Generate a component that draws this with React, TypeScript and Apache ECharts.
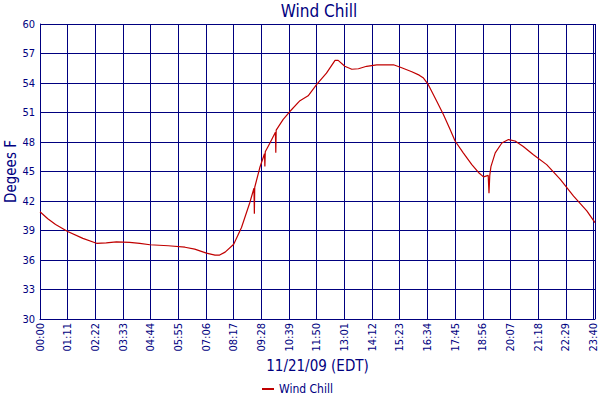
import React, { useEffect, useRef } from "react";
import * as echarts from "echarts";

const timesMin: number[] = [
  0, 20, 40, 71, 110, 145, 170, 196, 230, 256, 282, 329, 372, 397, 427, 449, 461, 475, 497, 517,
  538, 549, 550, 551, 564, 576, 577, 578, 590, 604, 605, 606, 624, 641, 667, 688, 710, 735, 757,
  765, 782, 800, 817, 838, 864, 907, 928, 954, 973, 984, 996, 1018, 1035, 1052, 1065, 1086, 1108,
  1125, 1138, 1150, 1152, 1154, 1157, 1168, 1185, 1202, 1219, 1240, 1266, 1300, 1335, 1369, 1403,
  1424,
];

const windChill: number[] = [
  40.9, 40.2, 39.6, 38.9, 38.2, 37.7, 37.75, 37.85, 37.8, 37.7, 37.55, 37.45, 37.3, 37.1, 36.7,
  36.5, 36.5, 36.8, 37.6, 39.3, 41.8, 43.3, 40.7, 43.4, 45.4, 46.8, 45.5, 47.0, 47.9, 49.0, 46.9,
  49.2, 50.3, 51.1, 52.2, 52.7, 53.85, 55.0, 56.3, 56.3, 55.7, 55.4, 55.45, 55.7, 55.85, 55.85,
  55.55, 55.15, 54.8, 54.5, 53.85, 52.15, 50.8, 49.3, 48.1, 46.9, 45.7, 44.9, 44.45, 44.6, 42.8,
  44.6, 45.5, 46.9, 47.9, 48.25, 48.1, 47.55, 46.7, 45.7, 44.2, 42.5, 41.0, 39.8,
];

// x tick positions in minutes after midnight (00:00, 01:11, ... 23:40, 23:44)
const xTickValues: number[] = [
  0, 71, 142, 213, 284, 355, 426, 497, 568, 639, 710, 781, 852, 923, 994, 1065, 1136, 1207, 1278,
  1349, 1420, 1424,
];

const yTicks = { min: 30, max: 60, interval: 3 };
const xRange = { min: 0, max: 1424 };

const NAVY = "#00007f";
const FONT = "'DejaVu Sans Condensed', 'DejaVu Sans', sans-serif";

function fmtTime(v: number): string {
  const h = Math.floor(v / 60);
  const m = Math.round(v - h * 60);
  return String(h).padStart(2, "0") + ":" + String(m).padStart(2, "0");
}

export default function App() {
  const ref = useRef<HTMLDivElement>(null);
  useEffect(() => {
    if (!ref.current) return;
    const chart = echarts.init(ref.current, null, { renderer: "svg" });
    chart.setOption({
      animation: false,
      backgroundColor: "#ffffff",
      textStyle: { fontFamily: FONT },
      title: {
        text: "Wind Chill",
        left: 319,
        textAlign: "center",
        top: 0,
        padding: [2, 0, 0, 0],
        textStyle: { color: NAVY, fontSize: 17, fontWeight: "normal", fontFamily: FONT },
      },
      legend: {
        left: 262,
        top: 383,
        icon: "rect",
        itemWidth: 12,
        itemHeight: 2,
        itemGap: 5,
        padding: 0,
        textStyle: { color: NAVY, fontSize: 12, fontFamily: FONT },
        data: ["Wind Chill"],
      },
      grid: {
        left: 40,
        right: 5,
        top: 24,
        bottom: 81,
        containLabel: false,
        outerBoundsMode: "none",
      },
      xAxis: {
        type: "value",
        min: xRange.min,
        max: xRange.max,
        name: "11/21/09 (EDT)",
        nameLocation: "middle",
        nameGap: 39,
        nameMoveOverlap: false,
        nameTextStyle: { color: NAVY, fontSize: 15, fontFamily: FONT },
        axisLine: { show: true, lineStyle: { color: NAVY, width: 1 } },
        axisTick: { show: false, customValues: xTickValues },
        axisLabel: {
          rotate: 90,
          margin: 4,
          color: NAVY,
          fontSize: 11,
          fontFamily: FONT,
          hideOverlap: false,
          customValues: xTickValues,
          formatter: (v: number) => fmtTime(v),
        },
        splitLine: { show: true, lineStyle: { color: NAVY, width: 1 } },
      },
      yAxis: {
        type: "value",
        min: yTicks.min,
        max: yTicks.max,
        interval: yTicks.interval,
        name: "Degees F",
        nameLocation: "middle",
        nameGap: 22,
        nameMoveOverlap: false,
        nameTextStyle: { color: NAVY, fontSize: 15, fontFamily: FONT },
        axisLine: { show: true, lineStyle: { color: NAVY, width: 1 } },
        axisTick: { show: false },
        axisLabel: { margin: 5, color: NAVY, fontSize: 11, fontFamily: FONT },
        splitLine: { show: true, lineStyle: { color: NAVY, width: 1 } },
      },
      series: [
        {
          name: "Wind Chill",
          type: "line",
          symbol: "none",
          smooth: false,
          itemStyle: { color: "#c00000" },
          lineStyle: { color: "#c00000", width: 1.2 },
          data: timesMin.map((t, i) => [t, windChill[i]]),
        },
      ],
    });
    return () => chart.dispose();
  }, []);
  return (
    <div
      ref={ref}
      style={{ position: "fixed", left: 0, top: 0, width: 600, height: 400 }}
    />
  );
}
